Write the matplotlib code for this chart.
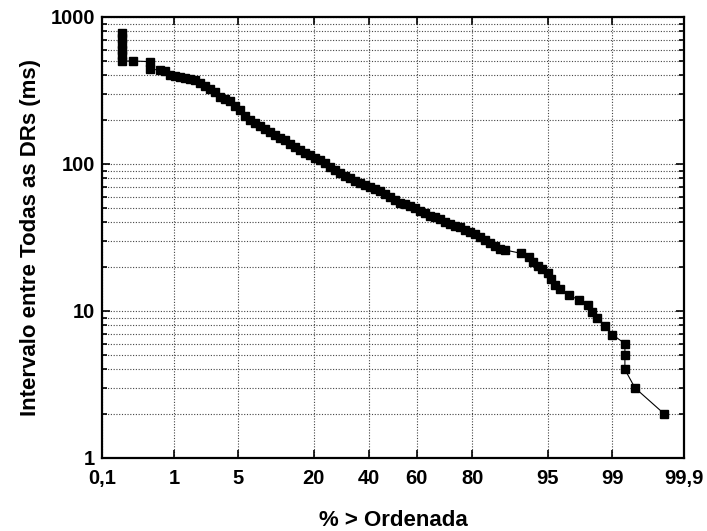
import numpy as np
import matplotlib
matplotlib.use("Agg")
import matplotlib.pyplot as plt
from matplotlib.ticker import FixedLocator, NullLocator, LogLocator, NullFormatter
from statistics import NormalDist

plt.rcParams['font.family'] = ['Liberation Sans', 'DejaVu Sans']
plt.rcParams['font.weight'] = 'bold'

# percent of intervals greater than the ordinate
pct = [0.2, 0.2, 0.2, 0.2, 0.2, 0.2, 0.29, 0.49, 0.49,
       0.669, 0.776, 0.896, 1.033, 1.19, 1.36, 1.56, 1.78, 2.02, 2.30,
       2.60, 2.94, 3.31, 3.73, 4.18, 4.68, 5.22, 5.81, 6.45, 7.15,
       7.90, 8.71, 9.58, 10.52, 11.51, 12.58, 13.71, 14.91, 16.18, 17.51,
       18.91, 20.38, 21.92, 23.52, 25.18, 26.90, 28.69, 30.52, 32.41, 34.33,
       36.30, 38.31, 40.35, 42.42, 44.51, 46.62, 48.73, 50.85, 52.96, 55.07,
       57.16, 59.23, 61.28, 63.30, 65.28, 67.22, 69.11, 70.95, 72.74, 74.48,
       76.15, 77.77, 79.32, 80.80, 82.21, 83.56, 84.84, 86.06, 87.20, 88.28,
       91.25, 92.5, 93.2, 93.85, 94.3, 95.0, 95.3, 95.7, 96.2, 96.9,
       97.6, 98.1, 98.25, 98.47, 98.78, 99.01, 99.31, 99.31, 99.31, 99.49,
       99.80]

# interval between DRs (ms)
intervalo = [780, 720, 660, 600, 550, 502, 502, 497, 441,
             436, 429, 403, 397, 391, 385, 379, 373, 356, 339,
             324, 309, 286, 277, 268, 248, 233, 212, 199, 190,
             181, 173, 165, 158, 151, 146, 137, 130.5, 124.5, 119.7,
             115.1, 110.7, 106.5, 101.6, 95.4, 91.0, 87.5, 83.5, 79.9, 76.6,
             73.9, 71.4, 69.2, 67.6, 65.5, 62.5, 59.6, 56.9, 54.7, 53.5,
             51.8, 49.8, 47.9, 46.1, 44.3, 43.3, 42.1, 40.3, 38.9, 37.9,
             37.0, 35.8, 34.6, 33.4, 32.0, 30.4, 28.9, 27.5, 26.4, 26.0,
             24.7, 23.2, 21.6, 20.2, 19.2, 18.0, 16.4, 15.0, 14.1, 12.8,
             11.9, 11.0, 9.9, 8.9, 7.9, 6.9, 6.0, 5.0, 4.0, 3.0,
             2.0]

xticks = [0.1, 1, 5, 20, 40, 60, 80, 95, 99, 99.9]
xticklabels = ['0,1', '1', '5', '20', '40', '60', '80', '95', '99', '99,9']
yticks = [1, 10, 100, 1000]
yticklabels = ['1', '10', '100', '1000']

nd = NormalDist()
_ppf = np.vectorize(nd.inv_cdf, otypes=[float])
_cdf = np.vectorize(nd.cdf, otypes=[float])


def prob_fwd(p):
    p = np.clip(np.asarray(p, dtype=float), 1e-6, 100 - 1e-6)
    return _ppf(p / 100.0)


def prob_inv(z):
    return _cdf(np.asarray(z, dtype=float)) * 100.0


fig = plt.figure(figsize=(7.07, 5.31), dpi=100)
ax = fig.add_axes([0.1443, 0.1375, 0.8232, 0.8305])

ax.plot(pct, intervalo, color='black', lw=0.8, marker='s', ms=6.2,
        mfc='black', mec='black', zorder=3)

ax.set_xscale('function', functions=(prob_fwd, prob_inv))
ax.set_yscale('log')
ax.set_xlim(0.1, 99.9)
ax.set_ylim(1, 1000)

ax.xaxis.set_major_locator(FixedLocator(xticks))
ax.xaxis.set_minor_locator(NullLocator())
ax.set_xticklabels(xticklabels)
ax.yaxis.set_major_locator(FixedLocator(yticks))
ax.yaxis.set_minor_locator(LogLocator(base=10, subs=np.arange(2, 10)))
ax.yaxis.set_minor_formatter(NullFormatter())
ax.set_yticklabels(yticklabels)

ax.grid(True, which='major', axis='x', color='#444444', ls=(0, (1, 1.5)), lw=0.8)
ax.grid(True, which='both', axis='y', color='#444444', ls=(0, (1, 1.5)), lw=0.8)

ax.tick_params(which='both', direction='in', top=True, right=True, width=1.2)
ax.tick_params(which='major', length=6, labelsize=14.5)
ax.tick_params(axis='x', which='major', pad=8)
ax.tick_params(axis='y', which='major', pad=5)
ax.tick_params(which='minor', length=3.5)
for lbl in ax.get_xticklabels() + ax.get_yticklabels():
    lbl.set_fontweight('bold')

for s in ax.spines.values():
    s.set_linewidth(1.6)

ax.set_xlabel('% > Ordenada', fontsize=16, fontweight='bold', labelpad=16)
ax.set_ylabel('Intervalo entre Todas as DRs (ms)', fontsize=16, fontweight='bold', labelpad=7)

fig.savefig('out.png', dpi=100)
